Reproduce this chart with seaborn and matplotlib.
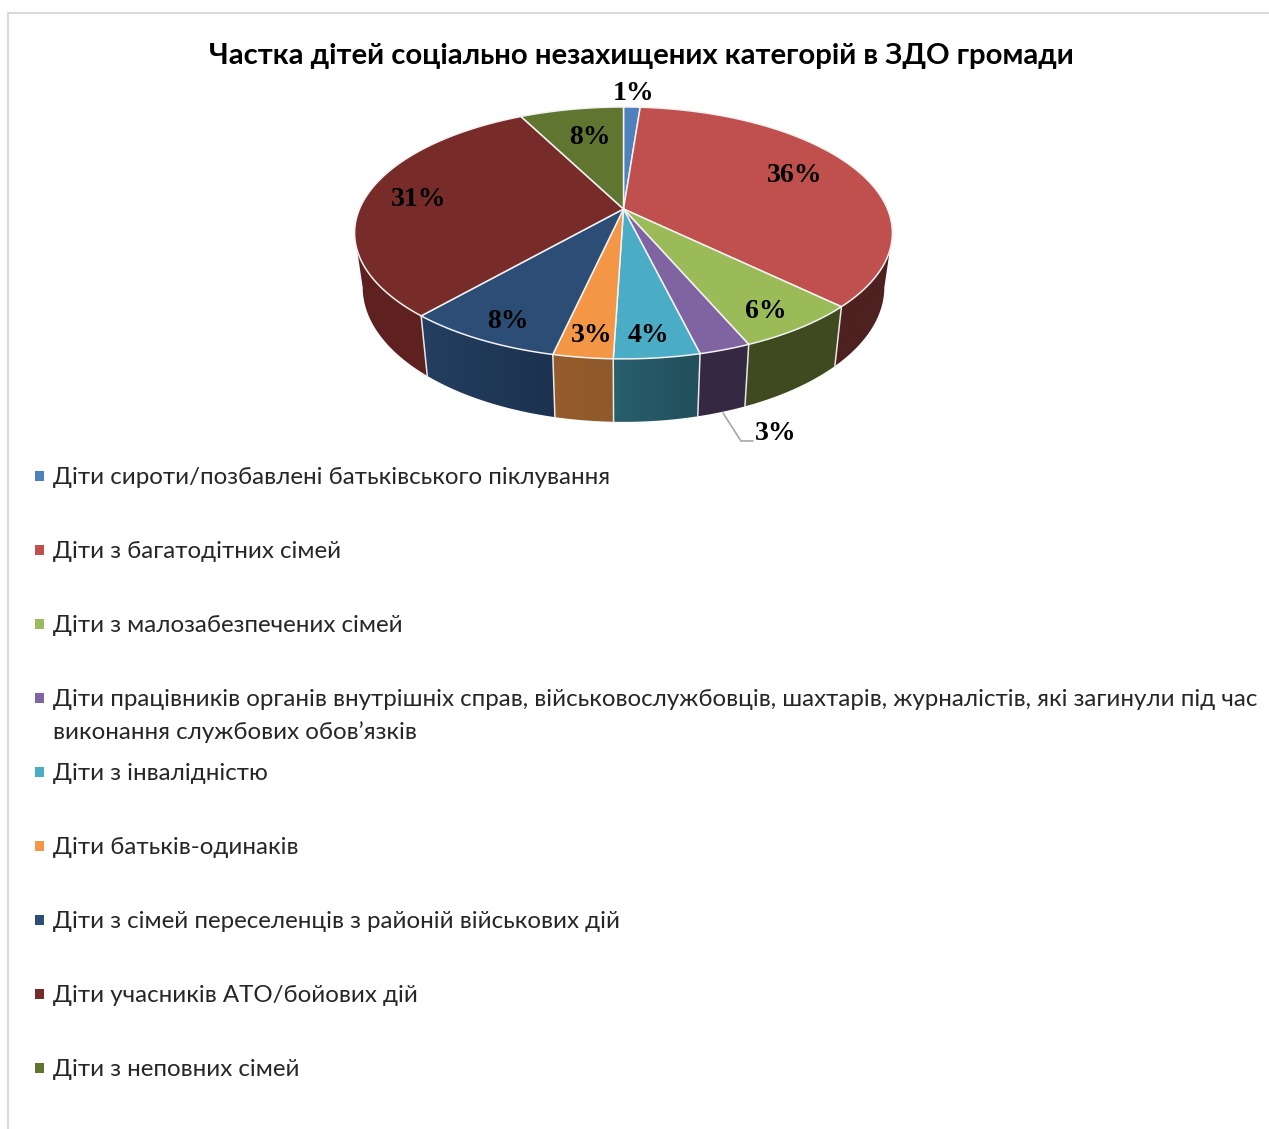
import matplotlib
matplotlib.use('Agg')
import matplotlib.pyplot as plt
from matplotlib.colors import to_rgb
from matplotlib.patches import Polygon
import numpy as np
import pandas as pd
import seaborn as sns

title = 'Частка дітей соціально незахищених категорій в ЗДО громади'
categories = [
    'Діти сироти/позбавлені батьківського піклування',
    'Діти з багатодітних сімей',
    'Діти з малозабезпечених сімей',
    'Діти працівників органів внутрішніх справ, військовослужбовців, шахтарів, журналістів, які загинули під час\nвиконання службових обов’язків',
    'Діти з інвалідністю',
    'Діти батьків-одинаків',
    'Діти з сімей переселенців з районій військових дій',
    'Діти учасників АТО/бойових дій',
    'Діти з неповних сімей',
]
values = [1.2, 36.1, 6.3, 2.6, 4.3, 3.0, 7.9, 31.1, 7.5]
top_colors = ['#4f81bd', '#c0504d', '#9bbb59', '#8064a2', '#4bacc6', '#f39646', '#2c4d75', '#772c2a', '#5f7530']
wall_start = ['#2b4668', '#4e2020', '#3f4a20', '#352842', '#224f5c', '#8f5a2a', '#1c3150', '#5f2120', '#3f4a20']
wall_end = ['#2b4668', '#4e2020', '#3f4a20', '#352842', '#285f6c', '#965c2b', '#243f60', '#5f2120', '#3f4a20']
label_pos = [(634, 94), (795, 176), (766, 312), (776, 434), (648, 336), (592, 336), (508, 322), (419, 200), (590, 138)]

W, H = 1269, 1129
CX, CY = 623.5, 209
C, A, K = 0.19, 121.4, 264.0
TH_L, TH_R = np.radians(101), np.radians(259)


def top_xy(theta):
    # tilted circle, the near edge is drawn bigger
    x, y = np.sin(theta), np.cos(theta)
    d = 1 + C * y
    return K * x / d, -A * y / d


def rim(theta):
    dx, dy = top_xy(theta)
    return np.column_stack([CX + dx, CY + dy])


def floor(theta):
    dx, dy = top_xy(theta)
    return np.column_stack([CX + 0.97 * dx, CY + 1.07 * dy + 52.5])


sns.set_theme(style='white')
plt.rcParams['font.family'] = ['Lato', 'Noto Sans', 'DejaVu Sans']
fig = plt.figure(figsize=(W / 100, H / 100), dpi=100)
ax = fig.add_axes([0, 0, 1, 1])

# frame of the original chart box, only top and left show
ax.plot([8, 8, W], [H, 13, 13], color='#d9d9d9', lw=1.5, zorder=1)

edges = np.radians(np.concatenate([[0], np.cumsum(values)]) * 3.6)

# walls first, each one a small gradient image clipped to its outline
for i in range(len(values)):
    a, b = max(edges[i], TH_L), min(edges[i + 1], TH_R)
    if a >= b:
        continue
    ts = np.linspace(a, b, 60)
    outline = np.vstack([rim(ts), floor(ts)[::-1]])
    shape = Polygon(outline, closed=True, fc='none', ec='none', transform=ax.transData)
    ax.add_patch(shape)
    # theta runs from right to left along the front
    c_left, c_right = np.array(to_rgb(wall_end[i])), np.array(to_rgb(wall_start[i]))
    grad = np.linspace(c_left, c_right, 64)[np.newaxis, :, :]
    im = ax.imshow(grad, extent=[outline[:, 0].min(), outline[:, 0].max(), outline[:, 1].max(), outline[:, 1].min()],
                   aspect='auto', interpolation='bilinear', zorder=2)
    im.set_clip_path(shape)

for e in edges:
    if TH_L < e < TH_R:
        t = np.array([e])
        p = np.vstack([rim(t), floor(t)])
        ax.plot(p[:, 0], p[:, 1], color='#e8e8e8', lw=1.1, zorder=3)

# top face
for i in range(len(values)):
    ts = np.linspace(edges[i], edges[i + 1], 80)
    pts = np.vstack([[CX, CY], rim(ts)])
    ax.add_patch(Polygon(pts, closed=True, fc=top_colors[i], ec='#f2f2f2', lw=1.1, zorder=4, joinstyle='round'))

# leader of the small purple slice
ax.plot([723, 741, 753], [413, 441, 441], color='#a6a6a6', lw=1.2, zorder=5)

for v, (x, y) in zip(values, label_pos):
    ax.text(x, y, f'{v:.0f}%', family='Liberation Serif', weight='bold', fontsize=20, color='black',
            ha='center', va='center', zorder=6)

ax.text(641.5, 56, title, fontsize=21.1, weight='bold', color='black', ha='center', va='center', zorder=6)

rows = pd.DataFrame({'x': 39.5, 'y': [476 + 74 * i for i in range(len(categories))], 'cat': categories})
sns.scatterplot(data=rows, x='x', y='y', hue='cat', palette=top_colors, marker='s', s=50, linewidth=0,
                legend=False, ax=ax, zorder=6)

for y, cat in zip(rows['y'], categories):
    ax.text(53, y - 9, cat, fontsize=17.4, color='#262626', ha='left', va='top', linespacing=1.6, zorder=6)

ax.set_xlim(0, W)
ax.set_ylim(H, 0)
ax.axis('off')

fig.savefig('out.png', dpi=100)
